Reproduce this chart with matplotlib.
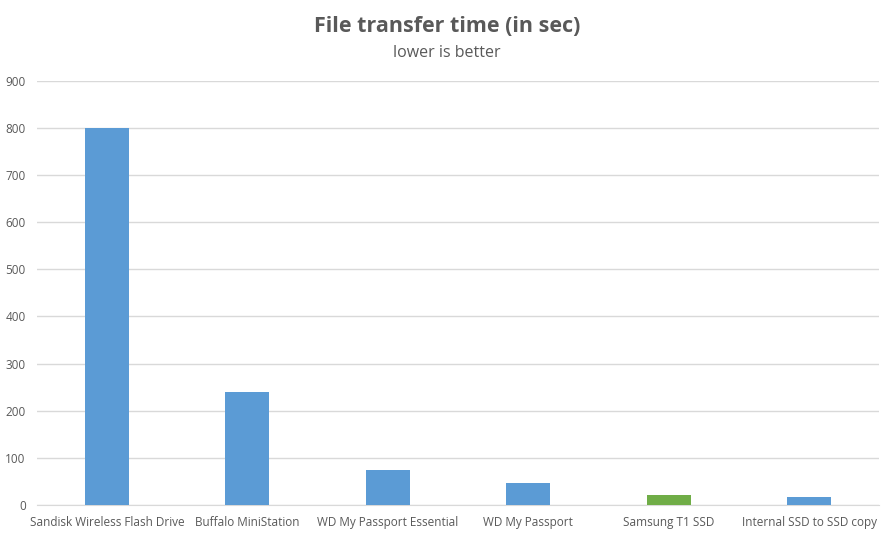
import matplotlib
matplotlib.use("Agg")
import matplotlib.pyplot as plt

# chart data
devices = [
    "Sandisk Wireless Flash Drive",
    "Buffalo MiniStation",
    "WD My Passport Essential",
    "WD My Passport",
    "Samsung T1 SSD",
    "Internal SSD to SSD copy",
]
seconds = [800, 240, 75, 47, 22, 17]
highlight = "Samsung T1 SSD"

plt.rcParams["font.family"] = ["Open Sans", "DejaVu Sans"]

fig = plt.figure(figsize=(8.94, 5.36), dpi=100)
ax = fig.add_axes([0.0412, 0.058, 0.9423, 0.791])

colors = ["#70AD47" if d == highlight else "#5B9BD5" for d in devices]
ax.bar(range(len(devices)), seconds, width=0.313, color=colors, zorder=3)

ax.set_xlim(-0.5, len(devices) - 0.5)
ax.set_ylim(0, 900)
ax.set_yticks(range(0, 901, 100))
ax.set_xticks(range(len(devices)))
ax.set_xticklabels(devices)
ax.tick_params(axis="both", length=0, colors="#595959", labelsize=8.5)
ax.tick_params(axis="x", pad=8)
ax.tick_params(axis="y", pad=8)

ax.grid(axis="y", color="#D9D9D9", linewidth=1, zorder=0)
for side in ["top", "right", "left"]:
    ax.spines[side].set_visible(False)
ax.spines["bottom"].set_color("#D9D9D9")

fig.text(0.5, 0.95, "File transfer time (in sec)", ha="center", va="center",
         fontsize=15.5, fontweight="bold", color="#595959")
fig.text(0.5, 0.902, "lower is better", ha="center", va="center",
         fontsize=11.5, color="#595959")

fig.savefig("out.png", dpi=100, facecolor="white")
